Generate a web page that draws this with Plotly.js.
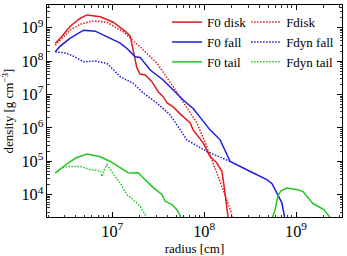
<!DOCTYPE html>
<html>
<head>
<meta charset="utf-8">
<script src="https://cdn.plot.ly/plotly-3.0.1.min.js"></script>
<style>html,body{margin:0;padding:0;background:#fff}#chart{width:347px;height:256px}</style>
</head>
<body>
<div id="chart"></div>
<script>
// F0 disk (solid red)
const f0DiskR = [2.40e6,2.72e6,3.49e6,4.49e6,5.31e6,7.41e6,1.025e7,1.38e7,1.57e7,1.69e7,1.855e7,2.01e7,2.28e7,2.70e7,3.16e7,3.58e7,3.96e7,4.60e7,5.48e7,7.05e7,7.59e7,9.76e7,1.16e8,1.37e8,1.56e8,1.65e8,1.76e8,1.85e8];
const f0DiskD = [3.44e8,4.86e8,1.11e9,1.92e9,2.41e9,2.13e9,1.46e9,7.87e8,5.57e8,2.13e8,6.18e7,4.09e7,3.82e7,2.41e7,1.21e7,8.60e6,5.57e6,4.24e6,2.62e6,1.41e6,8.71e5,3.57e5,1.39e5,9.02e4,4.97e4,1.77e4,4.48e3,1.5e3];
// Fdisk (dotted red)
const fDiskR = [2.40e6,2.72e6,3.49e6,4.49e6,6.21e6,8.76e6,1.32e7,2.01e7,3.06e7,4.60e7,6.49e7,8.33e7,1.03e8,1.25e8,1.61e8,1.92e8,2.12e8];
const fDiskD = [3.00e8,4.24e8,8.42e8,1.27e9,1.60e9,1.46e9,7.50e8,2.67e8,8.71e7,1.71e7,3.96e6,1.41e6,3.57e5,9.02e4,1.41e4,3.56e3,1.5e3];
// F0 fall (solid blue)
const f0FallR = [2.40e6,2.72e6,3.49e6,4.88e6,6.53e6,8.76e6,1.22e7,1.445e7,1.78e7,2.01e7,2.59e7,3.58e7,4.60e7,5.91e7,7.59e7,9.06e7,1.16e8,1.49e8,1.92e8,2.91e8,4.81e8,5.48e8,6.37e8,6.99e8,7.41e8,7.59e8];
const f0FallD = [1.90e8,2.81e8,4.86e8,8.42e8,7.87e8,5.31e8,3.44e8,2.39e8,1.34e8,1.29e8,5.38e7,2.71e7,1.36e7,6.85e6,3.82e6,2.13e6,8.71e5,4.38e5,9.86e4,5.57e4,2.80e4,2.13e4,8.89e3,5.77e3,2.6e3,1.5e3];
// Fdyn fall (dotted blue)
const fDynFallR = [2.40e6,3.22e6,3.96e6,4.87e6,6.53e6,8.76e6,1.22e7,1.69e7,2.17e7,3.06e7,4.27e7,5.48e7,6.49e7,1.07e8,1.92e8];
const fDynFallD = [1.90e8,1.70e8,1.32e8,9.53e7,1.00e8,8.53e7,3.40e7,2.16e7,1.11e7,5.57e6,2.44e6,8.71e5,4.38e5,1.96e5,9.86e4];
// F0 tail (solid green), two pieces split by a gap
const f0TailR = [2.40e6,3.22e6,4.06e6,5.31e6,7.41e6,9.51e6,1.22e7,1.49e7,1.69e7,1.92e7,2.17e7,2.79e7,3.49e7,3.77e7,4.45e7,5.05e7,5.62e7,5.75e7,null,5.35e8,5.91e8,6.37e8,6.87e8,7.92e8,9.28e8,1.05e9,1.19e9,1.35e9,1.53e9,1.73e9,2.01e9,2.34e9,2.46e9];
const f0TailD = [4.45e4,8.42e4,1.27e5,1.64e5,1.36e5,9.86e4,6.40e4,4.54e4,4.45e4,4.54e4,3.21e4,1.62e4,1.00e4,6.31e3,5.03e3,3.56e3,2.06e3,1.5e3,null,1.5e3,3.56e3,9.33e3,1.31e4,1.58e4,1.51e4,1.41e4,1.23e4,8.12e3,5.38e3,4.48e3,3.56e3,2.1e3,1.5e3];
// Fdyn tail (dotted green)
const fDynTailR = [2.40e6,2.86e6,3.22e6,4.49e6,5.77e6,6.70e6,7.41e6,7.78e6,8.19e6,8.76e6,9.51e6,1.025e7,1.22e7,1.445e7,1.69e7,2.01e7,2.38e7,2.46e7];
const fDynTailD = [4.45e4,6.40e4,7.00e4,7.00e4,5.57e4,5.20e4,5.20e4,3.52e4,5.57e4,7.87e4,5.57e4,4.24e4,2.23e4,1.00e4,7.10e3,4.48e3,2.06e3,1.5e3];

const seriesNames = ['F0 disk','Fdisk','F0 fall','Fdyn fall','F0 tail','Fdyn tail'];
const RED='#dd1c1c', BLUE='#1c1cdd', GREEN='#1ec81e';
const FONT='Liberation Serif, Times New Roman, serif';
const DOT='1.5px,1.5px';

function tr(x,y,name,color,dash,leg){
  return {x:x,y:y,name:name,type:'scatter',mode:'lines',connectgaps:false,legend:leg,
    line:{color:color,width:1.5,dash:dash}};
}
const data=[
  tr(f0DiskR,f0DiskD,seriesNames[0],RED,'solid','legend'),
  tr(fDiskR,fDiskD,seriesNames[1],RED,DOT,'legend2'),
  tr(f0FallR,f0FallD,seriesNames[2],BLUE,'solid','legend'),
  tr(fDynFallR,fDynFallD,seriesNames[3],BLUE,DOT,'legend2'),
  tr(f0TailR,f0TailD,seriesNames[4],GREEN,'solid','legend'),
  tr(fDynTailR,fDynTailD,seriesNames[5],GREEN,DOT,'legend2')
];
const axisCommon={type:'log',showgrid:false,zeroline:false,showline:true,linecolor:'#000',linewidth:1,
  mirror:'allticks',ticks:'inside',ticklen:5,tickwidth:1,tickcolor:'#000',
  tickmode:'linear',tick0:0,dtick:1,exponentformat:'power',
  minor:{ticks:'inside',ticklen:2.5,tickwidth:0.8,tickcolor:'#000',dtick:'D1',showgrid:false},
  tickfont:{family:FONT,size:13,color:'#000'}};
const legCommon={orientation:'v',yanchor:'top',xanchor:'left',y:0.99,itemwidth:30,
  bgcolor:'rgba(0,0,0,0)',borderwidth:0,font:{family:FONT,size:13,color:'#000'},tracegroupgap:0};
const layout={
  width:347,height:256,
  margin:{l:47,r:5,t:5,b:39},
  paper_bgcolor:'#fff',plot_bgcolor:'#fff',
  font:{family:FONT,size:13,color:'#000'},
  xaxis:Object.assign({},axisCommon,{range:[6.29,9.5],
    title:{text:'radius [cm]',font:{family:FONT,size:13,color:'#000'},standoff:4}}),
  yaxis:Object.assign({},axisCommon,{range:[3.33,9.68],
    title:{text:'density [g cm<sup>−3</sup>]',font:{family:FONT,size:13,color:'#000'},standoff:6}}),
  showlegend:true,
  legend:Object.assign({},legCommon,{x:0.407}),
  legend2:Object.assign({},legCommon,{x:0.675})
};
Plotly.newPlot('chart',data,layout,{displayModeBar:false,staticPlot:true});
</script>
</body>
</html>
